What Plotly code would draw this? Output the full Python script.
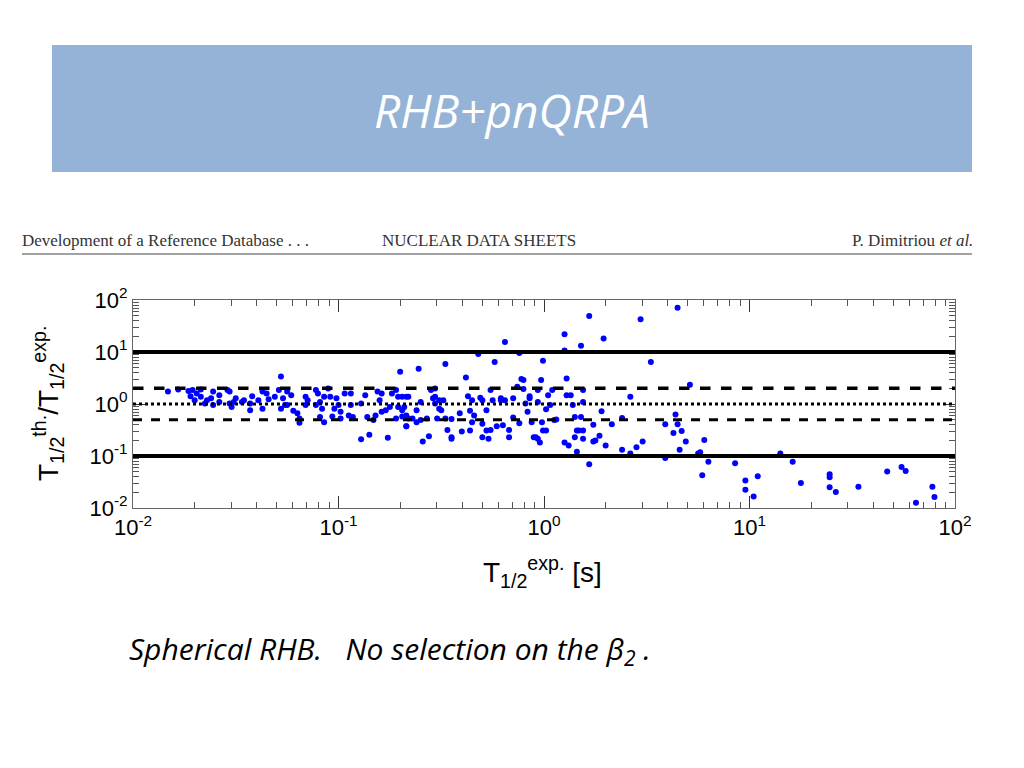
import numpy as np
import plotly.graph_objects as go

# log10 of experimental half-life [s]
log_t_exp = [
-1.83,-1.78,-1.73,-1.72,-1.70,-1.71,-1.69,-1.67,-1.67,-1.65,-1.64,-1.62,-1.61,-1.58,-1.61,-1.58,-1.54,-1.53,-1.53,-1.52,
-1.50,-1.51,-1.47,-1.46,-1.43,-1.42,-1.43,-1.39,-1.37,-1.35,-1.34,-1.37,-1.31,-1.29,-1.28,-1.27,-1.26,-1.28,-1.25,-1.23,
-1.25,-1.22,-1.20,-1.19,-1.19,-1.16,-1.16,-1.15,-1.11,-1.11,-1.10,-1.09,-1.08,-1.09,-1.07,-1.07,-1.05,-1.04,-1.02,-1.03,
-1.01,-1.00,-0.99,-0.99,-0.97,-0.94,-0.94,-0.93,-0.95,-0.89,-0.87,-0.86,-0.89,-0.85,-0.83,-0.82,-0.81,-0.80,-0.79,-0.79,
-0.77,-0.75,-0.76,-0.74,-0.72,-0.71,-0.71,-0.70,-0.69,-0.69,-0.67,-0.67,-0.66,-0.72,
-0.61,-0.69,-0.66,-0.68,-0.67,-0.67,-0.64,-0.62,-0.62,-0.60,-0.60,-0.59,-0.57,-0.56,-0.55,-0.54,-0.53,-0.53,-0.53,-0.52,
-0.51,-0.50,-0.51,-0.49,-0.48,-0.48,-0.47,-0.45,-0.45,-0.45,-0.41,-0.40,-0.38,-0.37,-0.36,-0.35,-0.35,-0.36,-0.34,-0.32,
-0.31,-0.30,-0.30,-0.30,-0.28,-0.28,-0.27,-0.26,-0.26,-0.25,-0.24,-0.23,-0.21,-0.21,-0.20,-0.19,-0.19,-0.17,-0.17,-0.15,
-0.15,-0.13,-0.12,-0.12,-0.11,-0.10,-0.10,-0.09,-0.08,-0.07,-0.07,-0.06,-0.05,-0.04,-0.03,-0.03,-0.03,-0.02,-0.014,-0.01,
-0.005,-0.005,0.01,0.01,0.02,0.03,0.04,0.05,0.06,0.10,0.10,0.10,0.11,0.11,0.12,0.13,0.14,0.15,0.15,0.16,
0.16,0.17,0.18,0.18,0.19,0.19,0.19,0.19,0.22,0.22,0.24,0.24,0.25,0.27,0.28,0.29,0.30,0.33,0.38,0.38,
0.42,0.42,0.45,0.47,0.48,0.52,0.59,0.59,0.63,0.64,0.65,0.65,0.66,0.67,
0.71,0.69,0.78,0.75,0.76,0.77,0.80,0.93,0.98,0.98,1.02,1.04,1.15,1.21,1.25,1.39,1.39,1.39,1.42,1.53,
1.67,1.74,1.76,1.81,1.89,1.90]

# log10 of T_th / T_exp
log_ratio = [
0.24,0.28,0.25,0.15,0.07,0.27,0.20,0.28,0.14,0.01,0.07,0.11,0.24,0.17,-0.02,0.04,0.27,0.24,0.01,-0.06,
0.11,0.04,0.04,0.07,-0.12,0.15,0.01,0.07,0.24,0.20,0.09,-0.09,0.14,0.27,0.53,0.11,-0.02,-0.09,0.24,0.17,
-0.02,-0.13,-0.18,-0.28,-0.36,-0.02,0.14,0.07,0.27,-0.02,0.20,0.04,-0.09,-0.25,-0.35,0.14,0.30,0.14,-0.09,-0.24,
0.11,-0.02,-0.15,-0.28,0.20,0.20,-0.02,-0.25,-0.22,0.01,0.17,-0.25,-0.68,-0.59,-0.31,-0.22,0.24,0.07,0.20,-0.15,
-0.12,-0.06,-0.65,0.20,0.27,0.14,-0.06,0.62,-0.24,-0.12,0.14,-0.43,-0.28,-0.28,
0.68,0.14,0.14,-0.06,-0.22,-0.43,-0.28,-0.12,-0.35,0.04,-0.31,-0.72,-0.28,-0.62,0.27,0.11,0.14,0.30,0.01,-0.28,
-0.09,-0.12,0.07,0.07,0.77,-0.28,-0.50,-0.64,-0.67,-0.29,-0.18,-0.53,0.51,0.15,-0.13,-0.35,0.07,-0.51,-0.22,0.96,
0.12,-0.38,0.07,-0.64,-0.12,-0.51,-0.67,0.27,-0.50,0.07,0.81,-0.43,0.07,0.11,-0.41,0.07,1.19,-0.50,-0.64,0.11,
-0.26,0.33,-0.37,0.98,0.48,0.46,0.29,0.01,-0.15,0.11,0.15,-0.35,-0.64,-0.64,0.27,0.04,-0.67,-0.74,0.46,-0.35,
0.83,-0.51,-0.10,-0.51,0.17,-0.02,0.27,-0.31,-0.30,1.34,1.03,-0.74,0.49,0.17,-0.80,0.17,-0.02,-0.25,-0.64,-0.92,
-0.51,-0.51,1.12,-0.25,0.27,-0.51,0.04,-0.67,1.69,-1.16,-0.72,-0.40,-0.70,-0.61,-0.14,1.26,-0.80,-0.39,-0.88,-0.27,
-0.95,0.14,-0.83,1.63,-0.72,0.81,-1.04,-0.39,-0.56,-0.20,1.85,-0.39,-0.88,-0.52,
0.37,-0.72,-0.69,-0.95,-0.93,-1.37,-1.11,-1.14,-1.47,-1.65,-1.78,-1.39,-0.95,-1.11,-1.52,-1.35,-1.41,-1.60,-1.69,-1.59,
-1.30,-1.21,-1.29,-1.90,-1.59,-1.79]

t_exp = np.power(10.0, log_t_exp)
ratio = np.power(10.0, log_ratio)

tick_vals = [0.01, 0.1, 1, 10, 100]
tick_text = ["10<sup>-2</sup>", "10<sup>-1</sup>", "10<sup>0</sup>", "10<sup>1</sup>", "10<sup>2</sup>"]
minor_vals = [m * d for d in [0.01, 0.1, 1, 10] for m in range(2, 10)]

# page offset: the page body adds ~8px margin
OFF = 8
W, H = 1024 - OFF, 768 - OFF
L, R, T, B = 133 - OFF, 1024 - 955, 300 - OFF, 768 - 508
PW, PH = W - L - R, H - T - B

def px(xp):
    return (xp - OFF - L) / PW

def py(yp):
    return (H - B - (yp - OFF)) / PH

fig = go.Figure()
fig.add_trace(go.Scatter(x=t_exp, y=ratio, mode="markers",
                         marker=dict(color="#0000ff", size=6), showlegend=False))

for yv, dash, w in [(10, "solid", 4), (0.1, "solid", 4), (2, "dash", 3.5), (0.5, "dash", 3), (1, "dot", 3)]:
    fig.add_shape(type="line", xref="paper", yref="y", x0=0, x1=1, y0=yv, y1=yv,
                  line=dict(color="black", width=w, dash=dash))

axis_common = dict(type="log", showgrid=False, zeroline=False, showline=True, linecolor="#666",
                   linewidth=1, mirror="allticks", ticks="inside", ticklen=12, tickcolor="#333",
                   tickvals=tick_vals, ticktext=tick_text,
                   tickfont=dict(family="Liberation Sans, Arial", size=22, color="black"),
                   minor=dict(ticks="inside", ticklen=6, tickcolor="#555", tickmode="array",
                              tickvals=minor_vals, showgrid=False))
fig.update_xaxes(range=[-2, 2], **axis_common)
fig.update_yaxes(range=[-2, 2], **axis_common)

fig.add_shape(type="rect", xref="paper", yref="paper",
              x0=px(52), x1=px(972), y0=py(172), y1=py(45),
              fillcolor="#95B3D7", line=dict(width=0), layer="below")
fig.add_annotation(text="<i>RHB+pnQRPA</i>", xref="paper", yref="paper",
                   x=px(512), y=py(110), xanchor="center", yanchor="middle", showarrow=False,
                   font=dict(family="Open Sans, Liberation Sans", size=46, color="white"))
fig.add_shape(type="line", xref="paper", yref="paper",
              x0=px(22), x1=px(972), y0=py(254), y1=py(254),
              line=dict(color="#444", width=1))
hdr_font = dict(family="Liberation Serif, DejaVu Serif", size=17, color="#333")
fig.add_annotation(text="Development of a Reference Database . . .", xref="paper", yref="paper",
                   x=px(20), y=py(241), xanchor="left", yanchor="middle", showarrow=False, font=hdr_font)
fig.add_annotation(text="NUCLEAR DATA SHEETS", xref="paper", yref="paper",
                   x=px(380), y=py(241), xanchor="left", yanchor="middle", showarrow=False, font=hdr_font)
fig.add_annotation(text="P. Dimitriou <i>et al.</i>", xref="paper", yref="paper",
                   x=px(975), y=py(241), xanchor="right", yanchor="middle", showarrow=False, font=hdr_font)

fig.add_annotation(text="T<sub>1/2</sub><sup>th.</sup>/T<sub>1/2</sub><sup>exp.</sup>", xref="paper", yref="paper",
                   x=px(48), y=py(404), xanchor="center", yanchor="middle", textangle=-90, showarrow=False,
                   font=dict(family="Liberation Sans, Arial", size=28, color="black"))
fig.add_annotation(text="T<sub>1/2</sub><sup>exp.</sup> [s]", xref="paper", yref="paper",
                   x=px(542), y=py(572), xanchor="center", yanchor="middle", showarrow=False,
                   font=dict(family="Liberation Sans, Arial", size=28, color="black"))
fig.add_annotation(text="<i>Spherical RHB.   No selection on the β<sub>2</sub> .</i>", xref="paper", yref="paper",
                   x=px(127), y=py(650), xanchor="left", yanchor="middle", showarrow=False,
                   font=dict(family="Open Sans, Liberation Sans", size=30, color="black"))

fig.update_layout(width=W, height=H, paper_bgcolor="white", plot_bgcolor="white",
                  margin=dict(l=L, r=R, t=T, b=B, autoexpand=False), showlegend=False)

fig.write_html("out.html")
